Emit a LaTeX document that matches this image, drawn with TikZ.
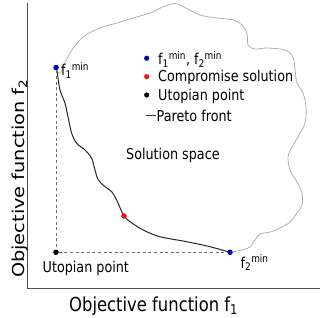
\documentclass[tikz,border=0pt]{standalone}
\usepackage{fontspec}
\setmainfont{DejaVu Sans}
\usepackage{graphicx}
\newcommand{\hsqz}[1]{\scalebox{0.85}[1]{#1}}
\definecolor{dotblue}{RGB}{0,0,175}
\definecolor{dotred}{RGB}{245,15,15}
\definecolor{outline}{RGB}{175,175,175}
\definecolor{dashgray}{RGB}{110,110,110}
\definecolor{axisgray}{RGB}{80,80,80}
\tikzset{
  dotstyle/.style={circle, inner sep=0pt, minimum size=5.2pt},
  bdot/.style={dotstyle, fill=dotblue},
  rdot/.style={dotstyle, fill=dotred},
  kdot/.style={dotstyle, fill=black},
  lbl/.style={inner sep=0pt, anchor=base west, font=\fontsize{15}{18}\selectfont},
  axlbl/.style={inner sep=0pt, anchor=base west, font=\fontsize{19.3}{23}\selectfont},
  dashline/.style={draw=dashgray, line width=0.8pt, dash pattern=on 3pt off 2.6pt},
  pareto/.style={draw=black!85, line width=1pt},
  space/.style={draw=outline, line width=0.8pt},
}
\begin{document}
\begin{tikzpicture}[x=1pt, y=-1pt]
\useasboundingbox (0,0) rectangle (320,317);
% axes
\coordinate (atop) at (27,3);
\coordinate (aorig) at (27,288);
\coordinate (aright) at (320,288);
\draw[axisgray, line width=0.9pt] (atop) -- (aorig) -- (aright);
% points
\node[bdot] (f1) at (56,67.5) {};
\node[kdot] (u) at (56,252.3) {};
\node[bdot] (f2) at (230,252.3) {};
\node[rdot] (cs) at (124,216) {};
% solution space outline
\draw[space] plot[smooth, tension=0.55] coordinates {
 (f1.center) (60,73) (70,53) (83,37) (100,28) (117,23) (133,18) (150,13) (163,7) (175,3.5) (184,7) (200,15) (217,18) (233,20) (242,25) (247,33) (248,45) (255,49) (267,48) (285,50) (293,57) (295,70) (297,83) (303,93) (306,107) (305,123) (298,137) (292,147) (288,157) (290,170) (297,182) (302,193) (302,205) (297,213) (290,222) (280,228) (270,232) (260,234) (255,240) (250,247) (242,250) (f2.center)};
% pareto front
\draw[pareto] plot[smooth, tension=0.55] coordinates {
 (f1.center) (57.3,73.3) (60,90) (65,103.3) (68.3,118.3) (71.7,133.3) (76.7,143.3) (85,150) (91.7,158.3) (95,170) (98.3,180) (105,186.7) (111.7,191.7) (116.7,200) (121.7,211.7) (cs.center) (130,221.7) (143.3,230) (160,236.7) (186.7,241.7) (210,246.7) (f2.center)};
% dashed projections
\draw[dashline] (f1) -- (u) -- (f2);
% redraw dots on top
\node[bdot] at (f1) {};
\node[bdot] at (f2) {};
\node[rdot] at (cs) {};
\node[kdot] at (u) {};
% point labels
\node[lbl] (f1lbl) at (61,75.5) {\hsqz{f\textsubscript{1}\textsuperscript{min}}};
\node[lbl] (f2lbl) at (240.5,268) {\hsqz{f\textsubscript{2}\textsuperscript{min}}};
\node[lbl] (ulbl) at (42.5,272.7) {\hsqz{Utopian point}};
\node[lbl] (sslbl) at (126,159.5) {\hsqz{Solution space}};
% legend
\node[bdot] (lg1) at (146.7,58.3) {};
\node[rdot] (lg2) at (146.7,76.7) {};
\node[kdot] (lg3) at (146.7,95) {};
\coordinate (lg4a) at (146,115);
\coordinate (lg4b) at (156,115);
\draw[black!80, line width=1pt] (lg4a) -- (lg4b);
\node[lbl] (lt1) at (158,64.3) {\hsqz{f\textsubscript{1}\textsuperscript{min}, f\textsubscript{2}\textsuperscript{min}}};
\node[lbl] (lt2) at (158,81.7) {\hsqz{Compromise solution}};
\node[lbl] (lt3) at (158,100) {\hsqz{Utopian point}};
\node[lbl] (lt4) at (156.5,121) {\hsqz{Pareto front}};
% axis labels
\node[axlbl] (xlab) at (69,311.5) {\hsqz{Objective function f\textsubscript{1}}};
\node[axlbl, rotate=90] (ylab) at (24.5,278) {\scalebox{1}[0.85]{Objective function f\textsubscript{2}}};
\end{tikzpicture}
\end{document}
